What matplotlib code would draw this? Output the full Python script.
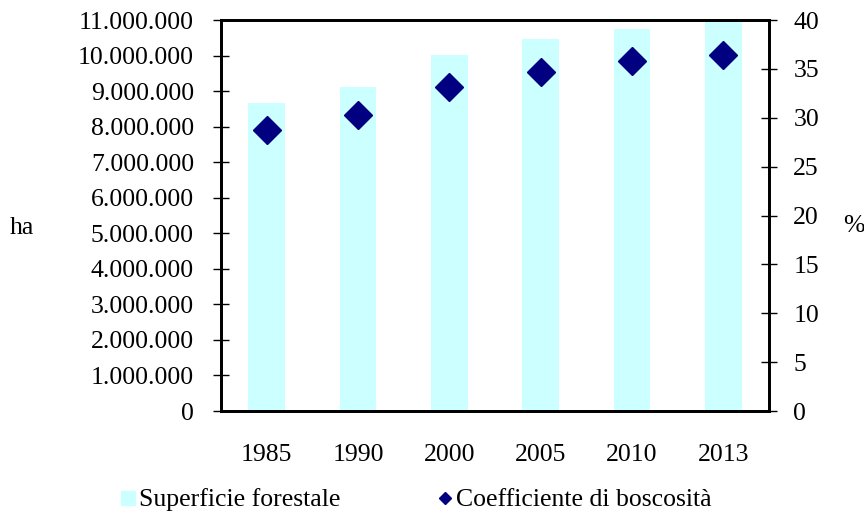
import numpy as np
import matplotlib
matplotlib.use('Agg')
from matplotlib import pyplot as plt
from matplotlib.lines import Line2D
from matplotlib.ticker import FuncFormatter

years = ['1985', '1990', '2000', '2005', '2010', '2013']
superficie = [8675000, 9110000, 10010000, 10467000, 10760000, 10982000]
coefficiente = [28.8, 30.3, 33.2, 34.7, 35.8, 36.4]

plt.rcParams['font.family'] = ['Liberation Serif', 'DejaVu Serif']
fsize = 18.5

barColor = '#CCFFFF'
markColor = '#000080'

fig = plt.figure(figsize=(8.64, 5.15), dpi=100)
ax = fig.add_axes([0.2558, 0.2019, 0.6343, 0.7592])
ax2 = ax.twinx()

ind = np.arange(len(years))
ax.bar(ind, superficie, 0.4, color=barColor, zorder=1)
ax2.plot(ind, coefficiente, linestyle='none', marker='D', markersize=14,
         color=markColor, zorder=3)

ax.set_xlim(-0.5, len(years) - 0.5)
ax.set_ylim(0, 11000000)
ax.set_yticks(np.arange(0, 11000001, 1000000))
ax.yaxis.set_major_formatter(FuncFormatter(lambda v, p: '{:,.0f}'.format(v).replace(',', '.')))
ax2.set_ylim(0, 40)
ax2.set_yticks(np.arange(0, 41, 5))

ax.set_xticks(ind)
ax.set_xticklabels(years)
ax.tick_params(axis='x', length=0, pad=24, labelsize=fsize)
ax.tick_params(axis='y', direction='inout', length=11, width=1, pad=14, labelsize=fsize)
ax2.tick_params(axis='y', direction='inout', length=11, width=1, pad=12, labelsize=fsize)

for a in (ax, ax2):
    for s in a.spines.values():
        s.set_linewidth(2)
        s.set_color('#000000')

fig.text(22 / 864, 1 - 228 / 515, 'ha', fontsize=fsize, ha='center', va='center')
fig.text(854 / 864, 1 - 226 / 515, '%', fontsize=fsize, ha='center', va='center')

handles = [Line2D([], [], linestyle='none', marker='s', markersize=10, color=barColor),
           Line2D([], [], linestyle='none', marker='D', markersize=6, color=markColor)]
fig.legend(handles, ['Superficie forestale', 'Coefficiente di boscosità'],
           loc='center', bbox_to_anchor=(416 / 864, 1 - 500 / 515), ncol=2,
           frameon=False, fontsize=fsize, handlelength=0.6, handletextpad=0.1,
           columnspacing=3.8, borderpad=0)

plt.savefig('out.png', dpi=100)
